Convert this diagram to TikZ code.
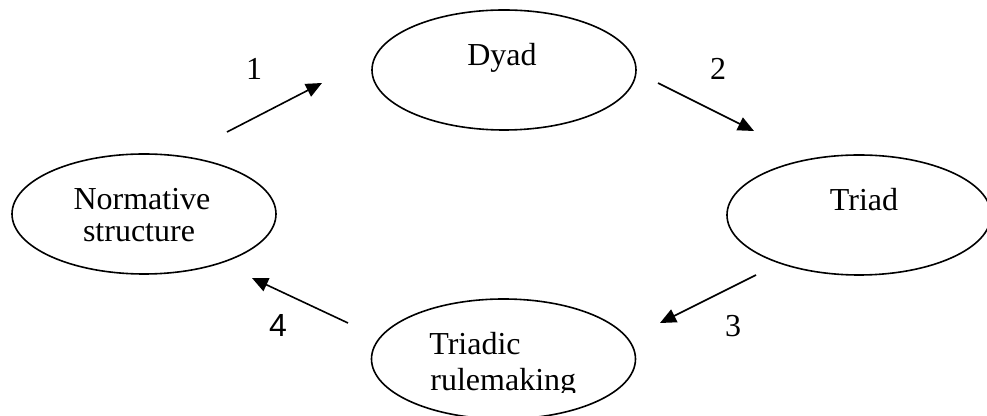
\documentclass[tikz,border=0pt]{standalone}
\usepackage{fontspec}
\setmainfont{Liberation Serif}
\newfontfamily\arialfont{Liberation Sans}
\usetikzlibrary{shapes.geometric,arrows.meta}
\begin{document}
\begin{tikzpicture}[x=0.5pt,y=-0.5pt,
  oval/.style={draw,ellipse,line width=0.8pt,minimum width=132pt,minimum height=60pt,inner sep=0pt},
  txt/.style={anchor=base,inner sep=0pt,font=\fontsize{16}{18}\selectfont},
  num/.style={anchor=base,inner sep=0pt,font=\fontsize{16}{18}\selectfont},
  conn/.style={line width=0.8pt,-{Triangle[length=8pt,width=7pt]}}]
\useasboundingbox (0,0) rectangle (987,416);
\clip (0,0) rectangle (987,416);
\node[oval] (dyad) at (504,70) {};
\node[oval] (norm) at (144,214) {};
\node[oval] (triad) at (859,215) {};
\node[oval] (rule) at (503.5,359) {};
\node[txt] (dyadtxt) at (502,66) {Dyad};
\node[txt] (normtxt1) at (142,210) {Normative};
\node[txt] (normtxt2) at (139,242) {structure};
\node[txt] (triadtxt) at (864,211) {Triad};
\node[txt,anchor=base west] (ruletxt1) at (429,355) {Triadic};
\begin{scope}
\clip (0,0) rectangle (987,393);
\node[txt,anchor=base west] (ruletxt2) at (430,391) {rulemaking};
\end{scope}
\coordinate (a1s) at (227,132); \coordinate (a1e) at (322,83);
\coordinate (a2s) at (658,83);  \coordinate (a2e) at (754,131);
\coordinate (a3s) at (756,275); \coordinate (a3e) at (660,323);
\coordinate (a4s) at (348,323); \coordinate (a4e) at (252,278);
\draw[conn] (a1s) -- (a1e);
\draw[conn] (a2s) -- (a2e);
\draw[conn] (a3s) -- (a3e);
\draw[conn] (a4s) -- (a4e);
\node[num] (n1) at (254,80) {1};
\node[num] (n2) at (718,80) {2};
\node[num] (n3) at (733,337) {3};
\node[num,font=\arialfont\fontsize{16}{18}\selectfont] (n4) at (278,337) {4};
\end{tikzpicture}
\end{document}
